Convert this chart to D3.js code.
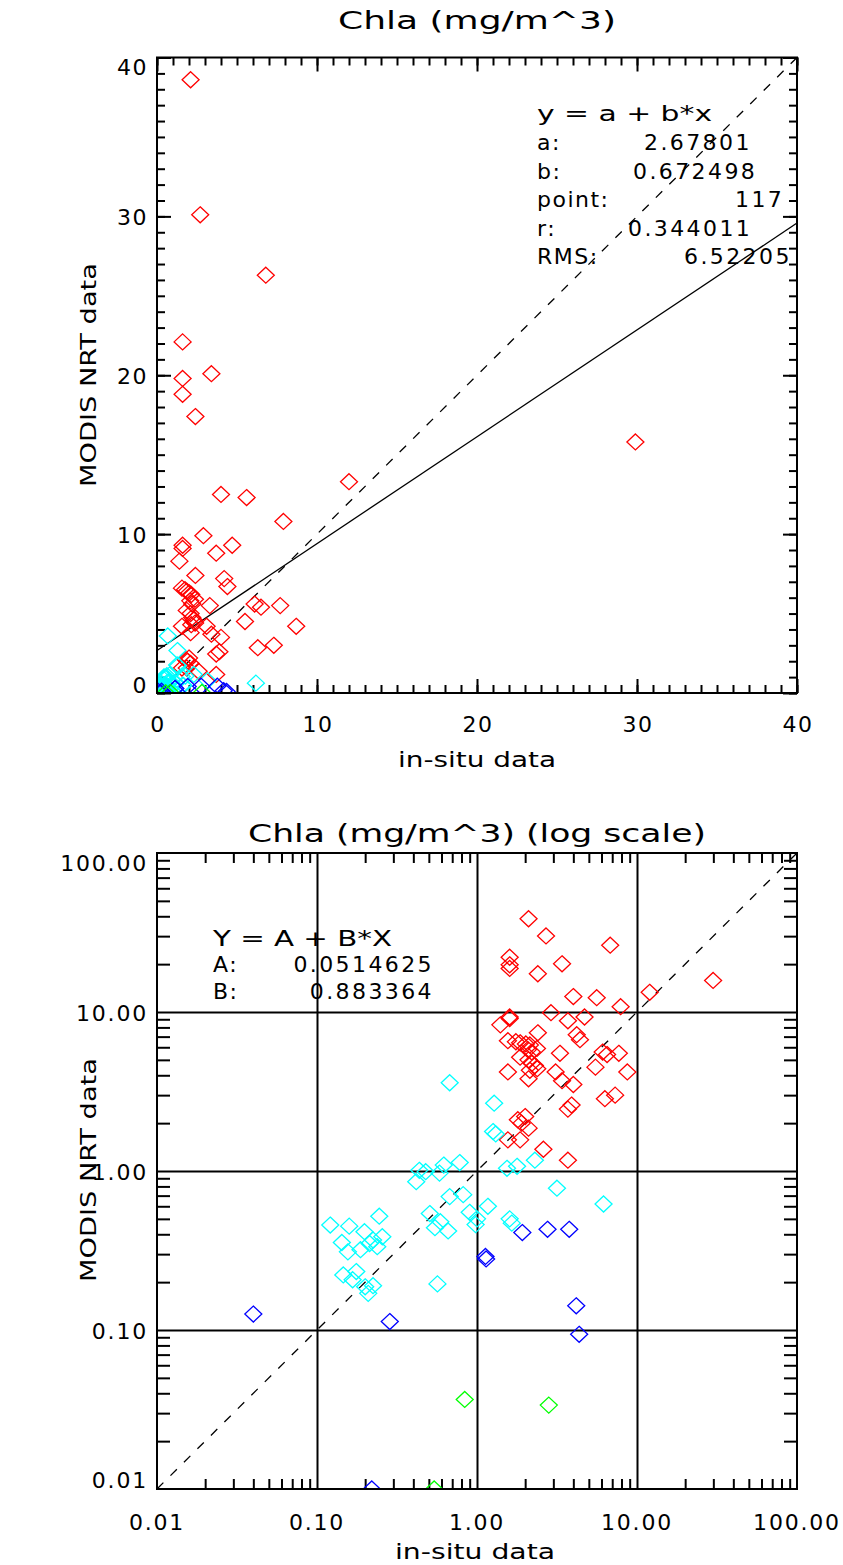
<!DOCTYPE html>
<html>
<head>
<meta charset="utf-8">
<script src="https://cdn.jsdelivr.net/npm/d3@7"></script>
<style>
  body { margin: 0; background: #fff; }
  svg { display: block; }
</style>
</head>
<body>
<script>
// Chlorophyll-a match-ups: in-situ value (x) vs MODIS NRT value (y), grouped by class colour.
const redX  = [2.1, 2.7, 6.8, 1.6, 1.6, 1.6, 3.4, 2.4, 12.0, 29.9, 4.0, 5.6, 7.9, 2.9, 3.7, 4.7, 1.6, 1.6, 1.4, 2.4,
               4.2, 4.4, 1.56, 1.75, 1.86, 2.02, 2.14, 2.08, 2.2, 2.37, 1.86, 2.1, 2.2, 2.38, 2.14, 1.56, 3.3, 5.5, 6.1, 6.5,
               7.7, 8.7, 3.1, 3.4, 4.0, 6.3, 7.3, 3.9, 3.7, 2.1, 1.8, 2.0, 1.9, 2.1, 1.56, 1.86, 2.6, 3.7, 2.3];
const redY  = [38.6, 30.1, 26.3, 22.1, 19.8, 18.8, 20.1, 17.4, 13.3, 15.8, 12.5, 12.3, 10.8, 9.9, 8.8, 9.3, 9.3, 9.1, 8.3, 7.4,
               7.2, 6.7, 6.6, 6.5, 6.4, 6.3, 6.2, 5.8, 5.6, 5.9, 5.2, 5.0, 4.75, 4.4, 4.3, 4.2, 5.5, 4.5, 5.6, 5.4,
               5.5, 4.2, 4.2, 3.7, 3.5, 2.85, 3.0, 2.6, 2.45, 3.8, 2.1, 2.2, 2.0, 1.86, 1.57, 1.57, 1.37, 1.17, 4.6];

const cyanX = [0.675, 1.28, 1.26, 1.31, 2.3, 1.54, 1.78, 0.436, 0.478, 0.583, 0.62, 0.78, 0.417, 3.16, 0.675, 0.82, 1.17, 0.9,
               6.18, 0.507, 0.59, 0.546, 0.66, 1.0, 0.98, 1.6, 1.65, 0.245, 0.121, 0.159, 0.198, 0.256, 0.224, 0.213, 0.143,
               0.156, 0.187, 0.238, 0.146, 0.176, 0.167, 0.2, 0.209, 0.224, 0.566];
const cyanY = [3.59, 2.67, 1.77, 1.71, 1.17, 1.04, 1.07, 1.01, 0.99, 0.97, 1.09, 1.13, 0.857, 0.78, 0.69, 0.71, 0.6, 0.55,
               0.62, 0.54, 0.48, 0.44, 0.42, 0.5, 0.46, 0.5, 0.47, 0.52, 0.457, 0.45, 0.415, 0.386, 0.368, 0.35, 0.355,
               0.31, 0.32, 0.334, 0.222, 0.233, 0.207, 0.187, 0.17, 0.19, 0.195];

const blueX = [1.13, 1.14, 1.92, 2.76, 3.77, 4.17, 4.35, 0.04, 0.285, 0.22];
const blueY = [0.29, 0.28, 0.41, 0.43, 0.43, 0.142, 0.094, 0.126, 0.113, 0.01];

const greenX = [0.838, 2.81, 0.54];
const greenY = [0.0366, 0.0337, 0.01];

// Tick values and labels
const linTicks = [0, 10, 20, 30, 40];
const linTickLabels = ["0", "10", "20", "30", "40"];
const logTicks = [0.01, 0.1, 1, 10, 100];
const logTickLabels = ["0.01", "0.10", "1.00", "10.00", "100.00"];

// Fit statistics printed on the panels
const linFitNames  = ["a:", "b:", "point:", "r:", "RMS:"];
const linFitValues = ["2.67801", "0.672498", "117", "0.344011", "6.52205"];
const linA = 2.67801, linB = 0.672498;
const logFitNames  = ["A:", "B:"];
const logFitValues = ["0.0514625", "0.883364"];

const groups = [
  { color: "#ff0000", xs: redX,   ys: redY },
  { color: "#00ffff", xs: cyanX,  ys: cyanY },
  { color: "#0000ff", xs: blueX,  ys: blueY },
  { color: "#00ff00", xs: greenX, ys: greenY }
];
const points = groups.flatMap(g => g.xs.map((x, i) => ({ x, y: g.ys[i], color: g.color })));

const W = 843, H = 1565;
const FONT = "'DejaVu Sans', 'Liberation Sans', sans-serif";
const svg = d3.select("body").append("svg").attr("width", W).attr("height", H)
  .style("font-family", FONT);

const L = 157, R = 797;
const top1 = 57.5, bot1 = 693;
const top2 = 853,  bot2 = 1489;

const xLin = d3.scaleLinear().domain([0, 40]).range([L, R]);
const yLin = d3.scaleLinear().domain([0, 40]).range([bot1, top1]);
const xLog = d3.scaleLog().domain([0.01, 100]).range([L, R]);
const yLog = d3.scaleLog().domain([0.01, 100]).range([bot2, top2]);

const defs = svg.append("defs");
defs.append("clipPath").attr("id", "clipLin").append("rect")
  .attr("x", L).attr("y", top1).attr("width", R - L).attr("height", bot1 - top1);
defs.append("clipPath").attr("id", "clipLog").append("rect")
  .attr("x", L).attr("y", top2).attr("width", R - L).attr("height", bot2 - top2);

const diamond = "M0,-8L8.5,0L0,8L-8.5,0Z";

function styleAxis(g) {
  g.select(".domain").remove();
  g.selectAll(".tick line").attr("stroke", "#000").attr("stroke-width", 2);
}

function text(g, str, x, y, size, opts = {}) {
  const t = g.append("text").attr("x", x).attr("y", y)
    .attr("font-size", size).attr("fill", "#000")
    .attr("text-anchor", opts.anchor || "start")
    .text(str);
  if (opts.len) t.attr("textLength", opts.len).attr("lengthAdjust", "spacingAndGlyphs");
  if (opts.ls) t.attr("letter-spacing", opts.ls);
  if (opts.rotate) t.attr("transform", `rotate(-90,${x},${y})`);
  return t;
}

/* ---------------- Linear panel ---------------- */
const p1 = svg.append("g");
const minorLin = d3.range(0, 41, 1);

p1.append("g").attr("transform", `translate(0,${bot1})`)
  .call(d3.axisBottom(xLin).tickValues(minorLin).tickSize(-8).tickFormat("")).call(styleAxis);
p1.append("g").attr("transform", `translate(0,${bot1})`)
  .call(d3.axisBottom(xLin).tickValues(linTicks).tickSize(-14).tickFormat("")).call(styleAxis);
p1.append("g").attr("transform", `translate(0,${top1})`)
  .call(d3.axisTop(xLin).tickValues(minorLin).tickSize(-8).tickFormat("")).call(styleAxis);
p1.append("g").attr("transform", `translate(0,${top1})`)
  .call(d3.axisTop(xLin).tickValues(linTicks).tickSize(-14).tickFormat("")).call(styleAxis);
p1.append("g").attr("transform", `translate(${L},0)`)
  .call(d3.axisLeft(yLin).tickValues(minorLin).tickSize(-8).tickFormat("")).call(styleAxis);
p1.append("g").attr("transform", `translate(${L},0)`)
  .call(d3.axisLeft(yLin).tickValues(linTicks).tickSize(-14).tickFormat("")).call(styleAxis);
p1.append("g").attr("transform", `translate(${R},0)`)
  .call(d3.axisRight(yLin).tickValues(minorLin).tickSize(-8).tickFormat("")).call(styleAxis);
p1.append("g").attr("transform", `translate(${R},0)`)
  .call(d3.axisRight(yLin).tickValues(linTicks).tickSize(-14).tickFormat("")).call(styleAxis);

// tick labels
linTicks.forEach((v, i) => {
  text(p1, linTickLabels[i], xLin(v) + 1, bot1 + 39, 22, { anchor: "middle", ls: 1.5 });
  const yc = Math.min(Math.max(yLin(v), top1 + 9), bot1 - 9);
  text(p1, linTickLabels[i], L - 9, yc + 8.5, 22, { anchor: "end", ls: 1.5 });
});

// reference lines
const lin1to1 = [0, 40];
p1.append("line").attr("clip-path", "url(#clipLin)")
  .attr("x1", xLin(lin1to1[0])).attr("y1", yLin(lin1to1[0]))
  .attr("x2", xLin(lin1to1[1])).attr("y2", yLin(lin1to1[1]))
  .attr("stroke", "#000").attr("stroke-width", 1.3).attr("stroke-dasharray", "9,10");
p1.append("line").attr("clip-path", "url(#clipLin)")
  .attr("x1", xLin(0)).attr("y1", yLin(linA))
  .attr("x2", xLin(40)).attr("y2", yLin(linA + linB * 40))
  .attr("stroke", "#000").attr("stroke-width", 1.3);

// points
p1.append("g").attr("clip-path", "url(#clipLin)")
  .selectAll("path").data(points).join("path")
  .attr("d", diamond)
  .attr("transform", d => `translate(${xLin(d.x)},${yLin(d.y)})`)
  .attr("fill", "none").attr("stroke", d => d.color).attr("stroke-width", 1.3);

// frame
p1.append("rect").attr("x", L).attr("y", top1).attr("width", R - L).attr("height", bot1 - top1)
  .attr("fill", "none").attr("stroke", "#000").attr("stroke-width", 2);

// titles
text(p1, "Chla (mg/m^3)", 477, 29, 24, { anchor: "middle", len: 278 });
text(p1, "in-situ data", 477, 767, 22, { anchor: "middle", len: 158 });
text(p1, "MODIS NRT data", 96, 375, 22, { anchor: "middle", len: 224, rotate: true });

// fit annotation
text(p1, "y = a + b*x", 537, 121, 22, { len: 175 });
const linValStart = [644, 633, 735, 628, 684];
linFitNames.forEach((nm, i) => {
  const yb = 150 + i * 28.5;
  text(p1, nm, 537, yb, 22, { ls: 1.5 });
  text(p1, linFitValues[i], linValStart[i], yb, 22, { ls: 2.4 });
});

/* ---------------- Log panel ---------------- */
const p2 = svg.append("g");
const decades = [-2, -1, 0, 1];
const minorLog = decades.flatMap(e => d3.range(2, 10).map(m => m * Math.pow(10, e)));
const gridVals = [0.1, 1, 10];

p2.append("g").attr("transform", `translate(0,${bot2})`)
  .call(d3.axisBottom(xLog).tickValues(minorLog).tickSize(-10).tickFormat("")).call(styleAxis);
p2.append("g").attr("transform", `translate(0,${top2})`)
  .call(d3.axisTop(xLog).tickValues(minorLog).tickSize(-10).tickFormat("")).call(styleAxis);
p2.append("g").attr("transform", `translate(${L},0)`)
  .call(d3.axisLeft(yLog).tickValues(minorLog).tickSize(-13).tickFormat("")).call(styleAxis);
p2.append("g").attr("transform", `translate(${R},0)`)
  .call(d3.axisRight(yLog).tickValues(minorLog).tickSize(-13).tickFormat("")).call(styleAxis);
// full decade grid
p2.append("g").attr("transform", `translate(0,${bot2})`)
  .call(d3.axisBottom(xLog).tickValues(gridVals).tickSize(-(bot2 - top2)).tickFormat("")).call(styleAxis);
p2.append("g").attr("transform", `translate(${L},0)`)
  .call(d3.axisLeft(yLog).tickValues(gridVals).tickSize(-(R - L)).tickFormat("")).call(styleAxis);

logTicks.forEach((v, i) => {
  text(p2, logTickLabels[i], xLog(v), bot2 + 41, 22, { anchor: "middle", ls: 1.8 });
  const yc = Math.min(Math.max(yLog(v), top2 + 9.5), bot2 - 9.5);
  text(p2, logTickLabels[i], L - 9, yc + 8.5, 22, { anchor: "end", ls: 1.8 });
});

const log1to1 = [0.01, 100];
p2.append("line").attr("clip-path", "url(#clipLog)")
  .attr("x1", xLog(log1to1[0])).attr("y1", yLog(log1to1[0]))
  .attr("x2", xLog(log1to1[1])).attr("y2", yLog(log1to1[1]))
  .attr("stroke", "#000").attr("stroke-width", 1.3).attr("stroke-dasharray", "9,10");

p2.append("g").attr("clip-path", "url(#clipLog)")
  .selectAll("path").data(points).join("path")
  .attr("d", diamond)
  .attr("transform", d => `translate(${xLog(d.x)},${yLog(d.y)})`)
  .attr("fill", "none").attr("stroke", d => d.color).attr("stroke-width", 1.3);

p2.append("rect").attr("x", L).attr("y", top2).attr("width", R - L).attr("height", bot2 - top2)
  .attr("fill", "none").attr("stroke", "#000").attr("stroke-width", 2);

text(p2, "Chla (mg/m^3) (log scale)", 477, 842, 24, { anchor: "middle", len: 458 });
text(p2, "in-situ data", 475, 1559, 22, { anchor: "middle", len: 160 });
text(p2, "MODIS NRT data", 96, 1170, 22, { anchor: "middle", len: 224, rotate: true });

text(p2, "Y = A + B*X", 213, 946, 22, { len: 179 });
logFitNames.forEach((nm, i) => {
  const yb = 972 + i * 26.5;
  text(p2, nm, 213, yb, 22, { ls: 1.5 });
  text(p2, logFitValues[i], 434, yb, 22, { anchor: "end", ls: 2.4 });
});
</script>
</body>
</html>
